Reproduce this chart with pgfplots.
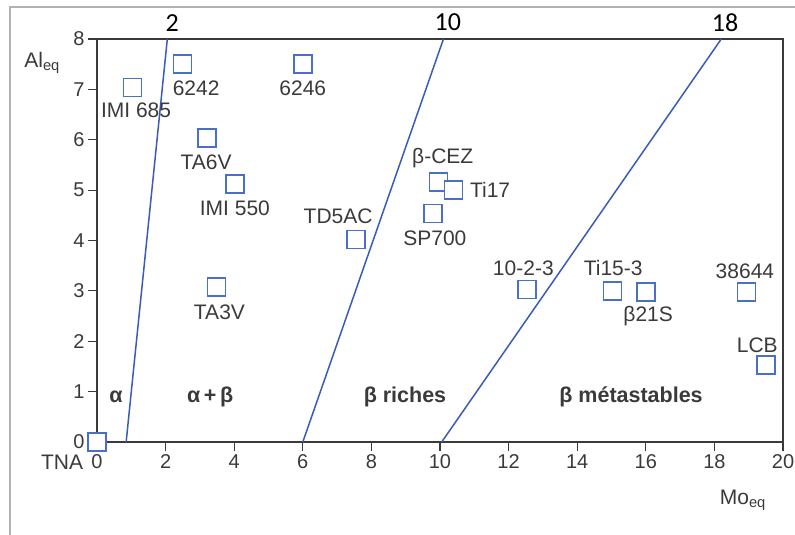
\documentclass[border=0pt]{standalone}
\usepackage{fontspec}
\setmainfont{Liberation Sans}
\newfontfamily\calibri{Carlito}
\usepackage{pgfplots}
\pgfplotsset{compat=1.18}
\definecolor{mk}{HTML}{4A6FC8}
\definecolor{ln}{HTML}{3A5BB8}
\definecolor{tx}{HTML}{3A3A3A}
\tikzset{lbl/.style={text=tx, font=\fontsize{21}{23}\selectfont},
  reg/.style={text=tx, font=\fontsize{21.5}{23}\selectfont\bfseries},
  top/.style={text=black, font=\calibri\fontsize{26}{28}\selectfont}}
\pgfplotstableread{
x y
0 0
1.04 7.04
2.5 7.5
6.0 7.5
3.2 6.03
4.02 5.12
7.55 4.02
3.48 3.08
9.95 5.16
10.4 5.0
9.8 4.54
12.53 3.03
15.03 3.0
16.0 2.98
18.94 2.98
19.5 1.53
}\alloys
\begin{document}
\begin{tikzpicture}[x=1pt,y=1pt, font=\fontsize{20}{22}\selectfont]
\useasboundingbox (-97,-93) rectangle (698,442);
\draw[gray!60, line width=1.5pt] (-87,-93) -- (-87,435) -- (698,435);
\begin{axis}[at={(0,0)}, anchor=south west, scale only axis,
  width=686pt, height=403pt,
  xmin=0, xmax=20, ymin=0, ymax=8,
  xtick={0,2,...,20}, ytick={0,1,...,8},
  xticklabel={\fontsize{20}{22}\selectfont\pgfmathprintnumber{\tick}},
  yticklabel={\fontsize{20}{22}\selectfont\pgfmathprintnumber{\tick}},
  xtick pos=bottom, ytick pos=left,
  tick align=outside, major tick length=9pt,
  axis line style={tx, line width=1.4pt},
  tick style={tx, line width=1.2pt},
  tick label style={text=tx},
  /pgf/number format/assume math mode=true,
  clip=false,
]
\addplot[ln, line width=1.5pt] coordinates {(0.85,0) (2.05,8)};
\addplot[ln, line width=1.5pt] coordinates {(6,0) (10.1,8)};
\addplot[ln, line width=1.5pt] coordinates {(10.05,0) (18.2,8)};
\addplot[only marks, mark=square*, mark size=9pt,
  mark options={draw=mk, fill=white, line width=1.5pt}] table {\alloys};
% point labels
\node[lbl] at (axis cs:-1.02,-0.4) {TNA};
\node[lbl] at (axis cs:1.14,6.59) {IMI 685};
\node[lbl] at (axis cs:2.89,7.02) {6242};
\node[lbl] at (axis cs:6.0,7.02) {6246};
\node[lbl] at (axis cs:3.18,5.56) {TA6V};
\node[lbl] at (axis cs:4.02,4.64) {IMI 550};
\node[lbl] at (axis cs:7.03,4.48) {TD5AC};
\node[lbl] at (axis cs:3.57,2.57) {TA3V};
\node[lbl] at (axis cs:10.08,5.63) {β-CEZ};
\node[lbl] at (axis cs:11.46,5.0) {Ti17};
\node[lbl] at (axis cs:9.85,4.04) {SP700};
\node[lbl] at (axis cs:12.43,3.45) {10-2-3};
\node[lbl] at (axis cs:15.05,3.45) {Ti15-3};
\node[lbl] at (axis cs:16.07,2.49) {β21S};
\node[lbl] at (axis cs:18.89,3.38) {38644};
\node[lbl] at (axis cs:19.25,1.92) {LCB};
% region labels
\node[reg] at (axis cs:0.55,0.89) {α};
\node[reg] at (axis cs:3.3,0.89) {α\,+\,β};
\node[reg] at (axis cs:8.98,0.89) {β riches};
\node[reg] at (axis cs:15.57,0.89) {β métastables};
% axis labels
\node[lbl] at (axis cs:-1.6,7.52) {Al\textsubscript{eq}};
\node[lbl] at (axis cs:18.83,-1.15) {Mo\textsubscript{eq}};
% top labels
\node[top] at (axis cs:2.19,8.31) {2};
\node[top] at (axis cs:10.23,8.33) {10};
\node[top] at (axis cs:18.31,8.33) {18};
\end{axis}
\end{tikzpicture}
\end{document}
